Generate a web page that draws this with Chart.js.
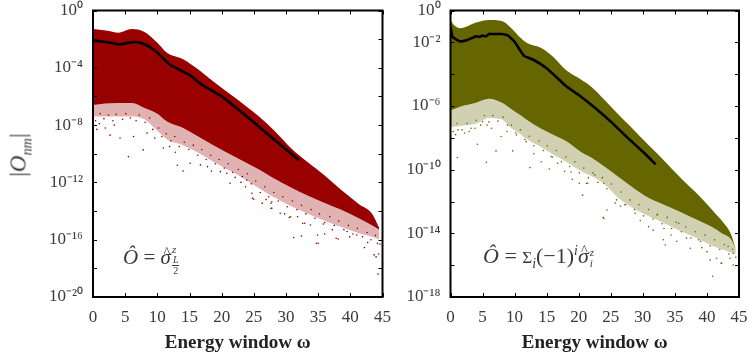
<!DOCTYPE html>
<html><head><meta charset="utf-8">
<script src="https://cdn.jsdelivr.net/npm/chart.js@4"></script>
<style>
html,body{margin:0;padding:0;background:#fff;width:747px;height:354px;overflow:hidden}
canvas{position:absolute;top:0}
.t{position:absolute;font-family:"Liberation Serif",serif;color:#3a3a3a;white-space:nowrap;line-height:1}
.t sub,.t sup{font-size:62%;line-height:0}
.hat{position:relative;display:inline-block}
.hat b{position:absolute;left:3px;top:-1px;font-weight:normal;font-style:normal;font-size:14px}
.stack{display:inline-flex;flex-direction:column;align-items:flex-start;vertical-align:middle;font-size:11px;line-height:1;margin-left:1px;position:relative;top:1px}
.frac{display:inline-flex;flex-direction:column;align-items:center;font-size:10px;line-height:1}
.frac i{border-bottom:1px solid #3a3a3a;padding:0 1px}
</style></head><body>
<canvas id="a" width="394" height="354" style="left:0"></canvas>
<canvas id="b" width="353" height="354" style="left:394px"></canvas>
<div class="t" style="left:18px;top:155px;font-size:23px;transform:translate(-50%,-50%) rotate(-90deg);">|<i>O<sub>nm</sub></i>|</div>
<div class="t" id="n1" style="left:123px;top:243px;font-size:21px"><i>Ô</i> = <span class="hat"><i>σ</i><b>^</b></span><span class="stack"><i>z</i><span class="frac"><i>L</i><span>2</span></span></span></div>
<div class="t" id="n2" style="left:483px;top:245px;font-size:22px"><i>Ô</i> = <span style="font-size:17px">Σ</span><sub><i>i</i></sub>(−1)<sup><i>i</i></sup><span class="hat"><i>σ</i><b>^</b></span><span class="stack" style="top:0"><i>z</i><i>i</i></span></div>
<script>
const xTicksVals=[0,5,10,15,20,25,30,35,40,45];
const leftTickExps=[0,-2,-4,-6,-8,-10,-12,-14,-16,-18,-20];
const leftLabelExps=[0,-4,-8,-12,-16,-20];
const rightTickExps=[0,-2,-4,-6,-8,-10,-12,-14,-16,-18];
const rightLabelExps=[0,-2,-6,-10,-14,-18];

const leftGrid=[0,2,4,6,8,10,11.5,14,16,18.7,22.4,25.8,28,31,33,36.1,38.5,41.3,43.4,44.5];
const leftUpper=[-1.3,-1.4,-1.55,-1.3,-1.5,-2.25,-2.95,-3.4,-4.0,-4.95,-6.2,-7.4,-8.3,-9.7,-10.45,-11.55,-12.5,-13.5,-14.2,-15.2];
const leftSolid=[-6.6,-6.5,-6.45,-6.45,-6.8,-7.2,-7.75,-8.2,-8.7,-9.4,-10.3,-11.1,-11.7,-12.4,-12.85,-13.45,-13.9,-14.5,-15,-15.3];
const leftPale=[-7.4,-7.4,-7.4,-7.4,-7.6,-8.4,-9,-9.4,-9.85,-10.55,-11.45,-12.4,-13,-13.7,-14.1,-14.7,-15.1,-15.55,-15.8,-16];
const leftDotW=[5.5,7.8,4.2,2.65,6.3,8.4,10.95,13.1,14,15.1,16.7,19.8,20.8,21.3,23.9,1.9,22.1,24.8,27.66,27.66,31.2,32.4,34.7,36,37.8,42.2,43.7,44.3,32.6,30.5,25,27.8,30.7,32.9,34.9,35,38.1,39.5,41,44,44.2,44.4,37.2,33.8,29.1,27.8,26.3,24.7,23.7,1,3.3,0.6,9.6,11.9,12.8,17.8,18.4,23,26.9,29.8,31.8,35.8,39.9,42.7];
const leftDotE=[-10.2,-9.73,-8.9,-8.7,-8.8,-8.56,-9.6,-10.8,-11.2,-10.66,-10.78,-11.25,-11.36,-12.06,-11.83,-8.2,-11.65,-13.1,-13.46,-13.8,-15.85,-15.75,-16.25,-15.6,-15.9,-16.55,-17.06,-18.4,-14.85,-14.45,-13.18,-13.35,-14.4,-14.85,-15.67,-16.25,-15.95,-15.43,-15.67,-17.2,-16.25,-17,-15.3,-14.97,-14.15,-13.8,-13.45,-12.76,-12.3,-7.9,-8,-8.3,-8.9,-9.5,-9.9,-10.9,-11.2,-12,-13.2,-14.2,-14.4,-14.9,-15.8,-16.2];
const leftEdgeW=[0.4,1.1,1.7,2.4,3.1,3.6,4.6,5.1,5.8,6.7,7.2,8.1,8.8,9.3,10.2,10.7,11.4,12.1,12.7,13.4,14.2,14.9,15.6,16.3,16.9,17.6,18.3,19,19.6,20.4,21,21.7,22.6,23.2,24,24.6,25.3,26,26.7,27.3,28.1,28.8,29.5,30.2,31,31.7,32.4,33.1,33.9,34.5,35.2,36,36.8,37.5,38.2,39,39.7,40.4,41.1,41.9,42.6,43.2,43.9,44.6];
const leftEdgeE=[-7.7,-7.2,-7.55,-7.3,-7.7,-7.25,-7.6,-7.2,-7.5,-7.7,-7.3,-7.8,-7.5,-8.3,-8.2,-8.8,-8.6,-9.1,-8.8,-9.5,-9.2,-9.7,-9.4,-10.1,-9.7,-10.4,-10.1,-10.7,-10.4,-11,-10.7,-11.3,-11.1,-11.6,-11.4,-12.1,-11.9,-12.7,-12.3,-13,-12.7,-13.3,-13,-13.7,-13.3,-13.9,-13.6,-14.2,-13.9,-14.5,-14.2,-14.8,-14.4,-15,-14.7,-15.3,-15,-15.6,-15.2,-15.8,-15.5,-16,-15.7,-16.3];
const leftCurveW=[0,1,2,3,4,5,6,7,8,9,10,11,12,13,15,17,20,22,25,28,30,32];
const leftCurveE=[-2.1,-2.15,-2.2,-2.27,-2.38,-2.3,-2.22,-2.22,-2.36,-2.6,-2.94,-3.38,-3.8,-4.03,-4.5,-5.2,-6.0,-6.7,-7.8,-8.95,-9.7,-10.45];

const rightGrid=[0,0.5,1.5,4,6,8,9.5,11,12,14,16,18,20.4,22,24,26,28,31,33,36.1,38.7,41.2,42.3,43.8,44.5];
const rightUpper=[-0.6,-0.9,-1.12,-0.76,-0.6,-0.66,-1.12,-1.75,-2.06,-2.33,-2.9,-3.74,-4.35,-4.8,-5.6,-6.45,-7.25,-8.5,-9.3,-10.6,-11.6,-12.7,-13.2,-14.1,-15];
const rightSolid=[-6.25,-6.2,-6.05,-5.8,-5.55,-5.8,-6.2,-6.6,-6.9,-7.4,-7.8,-8.2,-8.9,-9.25,-9.8,-10.4,-11.0,-11.8,-12.15,-12.7,-13.2,-13.7,-14,-14.4,-15];
const rightPale=[-7.3,-7.3,-7.25,-7.1,-6.75,-6.85,-7.4,-7.8,-8.1,-8.55,-9.05,-9.5,-10.1,-10.4,-10.9,-11.7,-12.3,-12.95,-13.3,-13.9,-14.35,-14.85,-15,-15.2,-15.3];
const rightDotW=[1.07,5.6,7.1,4.2,2.2,1.17,6.4,7.9,9.7,10.3,11.8,12.4,14.15,15.4,15.7,17.8,18.8,20.1,21.4,22.5,23.9,16.7,5,5.7,3.8,24.4,23.9,27.2,28.8,30.9,33.2,33.5,35.3,36.8,37.4,40,40.5,41.5,42.3,43.3,43.6,44.1,44.1,38.7,32.2,33.3,35.6,25.7,21.2,20.6,40.9,23.8,42.2,0.8,2.9,8.8,13,19,26.5,29.6,31.6,34.4,39.2];
const rightDotE=[-9.24,-9.54,-8.82,-8.4,-7.7,-7.5,-7.4,-7.92,-8.82,-7.82,-8.24,-9.87,-9.5,-9.96,-9.18,-10.1,-10.15,-10.85,-10.85,-10.33,-10.85,-9.6,-6.98,-7.2,-7.4,-12.53,-13.06,-12.2,-12.74,-13.58,-14.4,-14.73,-14.5,-14.3,-14.94,-15.15,-15.67,-15.57,-15.88,-14.83,-15.57,-15.25,-15.99,-14.4,-12.85,-13.7,-13.37,-12.1,-10.85,-11.6,-16.7,-13,-15.87,-7.8,-7.6,-7.6,-9,-10.6,-12.3,-13.2,-13.8,-14.1,-14.9];
const rightEdgeW=[0.4,1,1.8,2.6,3.2,4,4.7,5.3,6,6.6,7.4,8.2,8.9,9.5,10.2,10.9,11.6,12.3,13,13.8,14.5,15.1,15.9,16.5,17.3,18,18.6,19.4,20.1,20.8,21.5,22.2,23,23.7,24.4,25.1,25.9,26.6,27.3,28,28.7,29.4,30.1,30.9,31.6,32.3,33,33.8,34.5,35.2,36,36.7,37.5,38.2,39,39.7,40.5,41.2,42,42.7,43.4,44,44.5];
const rightEdgeE=[-7.6,-7.1,-7.5,-7.1,-7.4,-6.9,-7.2,-6.6,-7,-6.6,-6.95,-6.7,-7.2,-7.2,-7.7,-7.5,-8.1,-7.9,-8.5,-8.2,-8.8,-8.5,-9.2,-8.8,-9.5,-9.2,-9.8,-9.5,-10.2,-9.9,-10.5,-10.2,-10.8,-10.5,-11.2,-10.9,-11.9,-11.4,-12.2,-11.9,-12.5,-12.2,-12.9,-12.5,-13.1,-12.8,-13.4,-13,-13.7,-13.3,-13.9,-13.6,-14.3,-13.9,-14.5,-14.1,-14.8,-14.4,-15,-14.7,-15.3,-15,-15.5];
const rightCurveW=[0,0.3,1,1.5,2.5,3.5,4,4.5,5,5.5,6,7,8,9,10,11,11.5,13,15,17,18,20,22,25,28,30,32];
const rightCurveE=[-1,-1.64,-1.85,-1.94,-1.87,-1.7,-1.62,-1.66,-1.58,-1.62,-1.48,-1.48,-1.48,-1.58,-1.96,-2.59,-2.86,-3.11,-3.63,-4.37,-4.74,-5.31,-5.94,-6.98,-8.14,-8.87,-9.67];

const sup={'0':'⁰','1':'¹','2':'²','4':'⁴','6':'⁶','8':'⁸','-':'⁻'};
const power=(v)=>Math.round(Math.log10(v));
const lbl=(e)=>'10'+String(e).split('').map(c=>sup[c]).join('');
const pts=(xs,es)=>xs.map((x,i)=>({x:x,y:Math.pow(10,es[i])}));

const boxTicks={id:'boxTicks',afterDraw(c){
  const ctx=c.ctx,a=c.chartArea,x=c.scales.x,y=c.scales.y;
  ctx.save();ctx.globalAlpha=1;ctx.strokeStyle='#000';ctx.lineWidth=1;ctx.beginPath();
  x.ticks.forEach(t=>{const p=Math.round(x.getPixelForValue(t.value))+.5;
    ctx.moveTo(p,a.top);ctx.lineTo(p,a.top+4);ctx.moveTo(p,a.bottom);ctx.lineTo(p,a.bottom-4);});
  y.ticks.forEach(t=>{const p=Math.round(y.getPixelForValue(t.value))+.5;
    ctx.moveTo(a.left,p);ctx.lineTo(a.left+4,p);ctx.moveTo(a.right,p);ctx.lineTo(a.right-4,p);});
  ctx.stroke();
  ctx.lineWidth=2;ctx.strokeRect(a.left,a.top,a.right-a.left,a.bottom-a.top);
  ctx.restore();
}};

function noPad(s){s.paddingTop=0;s.paddingBottom=0;s.paddingLeft=0;s.paddingRight=0;}
function make(id,o){
  const fontTick={family:'"Liberation Serif"',size:17};
  const band={borderWidth:0,pointRadius:0,cubicInterpolationMode:'monotone'};
  return new Chart(document.getElementById(id),{
    type:'line',
    data:{datasets:[
      {...band,label:'upper',data:pts(o.grid,o.upper),fill:'+1',backgroundColor:o.color,order:5},
      {...band,label:'dense',data:pts(o.grid,o.solid),fill:'+1',backgroundColor:o.pale,order:6},
      {...band,label:'sparse',data:pts(o.grid,o.paleE),fill:false,order:7},
      {type:'scatter',label:'outliers',data:pts(o.dotW.concat(o.edgeW),o.dotE.concat(o.edgeE)),pointRadius:.8,pointBorderWidth:0,pointBackgroundColor:o.color,showLine:false,order:4},
      {label:'mean',data:pts(o.curveW,o.curveE),borderColor:'#000',borderWidth:2.6,pointRadius:0,fill:false,order:1,tension:.1}
    ]},
    options:{
      responsive:false,animation:false,
      layout:{autoPadding:false,padding:{left:0,top:o.top,right:o.right,bottom:0}},
      plugins:{legend:{display:false},tooltip:{enabled:false}},
      scales:{
        x:{type:'linear',min:0,max:45,
          grid:{display:false,drawTicks:false},border:{display:false},
          afterBuildTicks:s=>{s.ticks=xTicksVals.map(v=>({value:v}));},
          afterFit:s=>{s.height=57;noPad(s);},
          ticks:{font:fontTick,color:'#3a3a3a',padding:10,maxRotation:0,autoSkip:false},
          title:{display:true,text:'Energy window ω',font:{family:'"Liberation Serif"',size:19,weight:'bold'},color:'#222',padding:{top:4,bottom:0}}},
        y:{type:'logarithmic',min:o.ymin,max:1,
          grid:{display:false,drawTicks:false},border:{display:false},
          afterBuildTicks:s=>{s.ticks=o.tickExps.map(e=>({value:Math.pow(10,e)}));},
          afterFit:s=>{s.width=o.left;noPad(s);},
          ticks:{font:fontTick,color:'#3a3a3a',padding:10,autoSkip:false,
            callback:v=>{const e=power(v);return o.labelExps.includes(e)?lbl(e):'';}}}
      }
    },
    plugins:[boxTicks]
  });
}
make('a',{grid:leftGrid,upper:leftUpper,solid:leftSolid,paleE:leftPale,dotW:leftDotW,dotE:leftDotE,edgeW:leftEdgeW,edgeE:leftEdgeE,curveW:leftCurveW,curveE:leftCurveE,
  color:'#990000',pale:'rgba(153,0,0,.3)',tickExps:leftTickExps,labelExps:leftLabelExps,ymin:1e-20,left:93,top:10.5,right:11.5});
make('b',{grid:rightGrid,upper:rightUpper,solid:rightSolid,paleE:rightPale,dotW:rightDotW,dotE:rightDotE,edgeW:rightEdgeW,edgeE:rightEdgeE,curveW:rightCurveW,curveE:rightCurveE,
  color:'#666600',pale:'rgba(102,102,0,.3)',tickExps:rightTickExps,labelExps:rightLabelExps,ymin:1e-18,left:56.5,top:10.5,right:8});
</script>
</body></html>
